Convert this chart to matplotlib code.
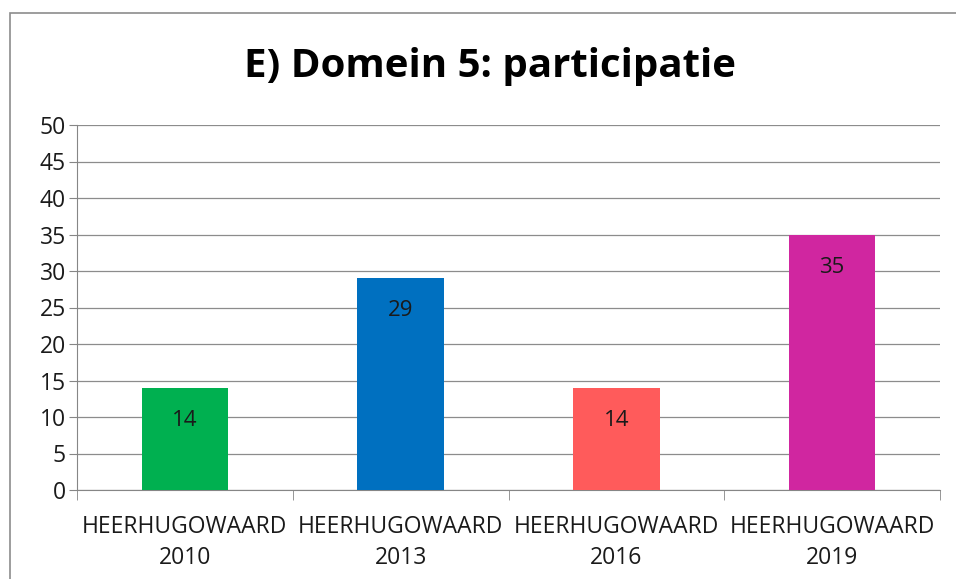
import matplotlib.pyplot as plt
from matplotlib.patches import Rectangle

# ---------- DATA ----------
categories = ['HEERHUGOWAARD\n2010', 'HEERHUGOWAARD\n2013',
              'HEERHUGOWAARD\n2016', 'HEERHUGOWAARD\n2019']
values = [14, 29, 14, 35]
colors = ['#00B050', '#0070C0', '#FF5B5B', '#D026A0']
yticks = list(range(0, 51, 5))

plt.rcParams['font.family'] = ['Open Sans', 'DejaVu Sans']

fig = plt.figure(figsize=(9.56, 5.79), dpi=100)

# outer chart frame (runs off the right/bottom edge like the screenshot)
fig.patches.append(Rectangle((10 / 956, -0.1), 1.2, 1 - 13 / 579 + 0.1,
                             transform=fig.transFigure, fill=False,
                             edgecolor='#8c8c8c', linewidth=1.2))

ax = fig.add_axes([77 / 956, 89 / 579, 863 / 956, 365 / 579])

x = range(len(categories))
bars = ax.bar(x, values, width=0.4, color=colors, zorder=3)
ax.bar_label(bars, labels=[str(v) for v in values], padding=-31,
             fontsize=16, color='#1a1a1a')

ax.set_xlim(-0.5, len(categories) - 0.5)
ax.set_ylim(0, 50)
ax.set_yticks(yticks)
ax.tick_params(axis='y', labelsize=16.5, length=6, color='#868686',
               labelcolor='#1a1a1a', pad=2)

ax.set_xticks(list(x))
ax.set_xticklabels(categories, fontsize=16.5, color='#1a1a1a', linespacing=1.4)
ax.tick_params(axis='x', length=0, pad=18)
# category boundary tick marks
ax.set_xticks([i - 0.5 for i in range(len(categories) + 1)], minor=True)
ax.tick_params(axis='x', which='minor', length=7, color='#868686')

ax.grid(axis='y', color='#8c8c8c', linewidth=0.9, zorder=0)
for s in ['top', 'right']:
    ax.spines[s].set_visible(False)
for s in ['left', 'bottom']:
    ax.spines[s].set_color('#868686')

fig.text(490 / 956, 1 - 66 / 579, 'E) Domein 5: participatie', ha='center',
         va='center', fontsize=29, fontweight='bold', color='#000000')

plt.savefig('out.png', dpi=100)
